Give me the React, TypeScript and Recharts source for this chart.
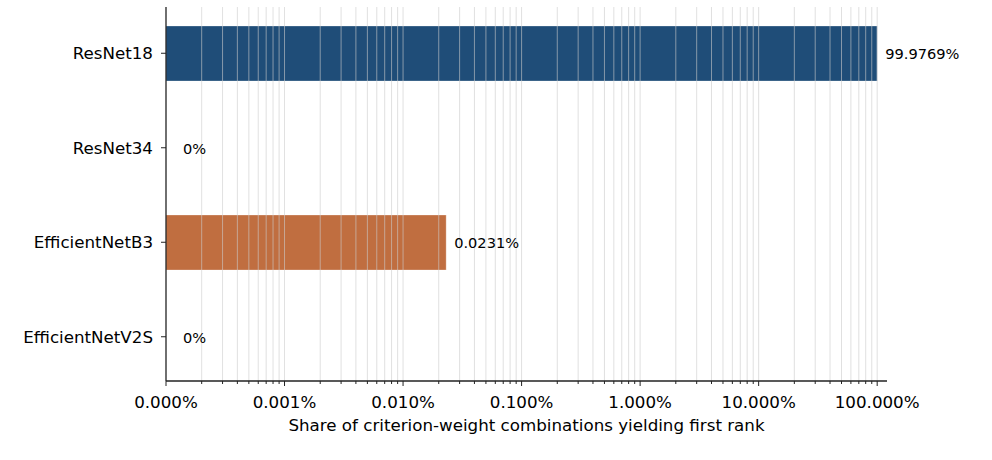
import { BarChart, Bar, XAxis, YAxis, Cell, LabelList, Label, ReferenceLine } from 'recharts';

const models = ['ResNet18', 'ResNet34', 'EfficientNetB3', 'EfficientNetV2S'];
const shares = [99.9769, 0, 0.0231, 0];
const barColors = ['#1f4d78', '#1f4d78', '#c06e40', '#c06e40'];

const majorTicks = [0.0001, 0.001, 0.01, 0.1, 1, 10, 100];
const minorSteps = [2, 3, 4, 5, 6, 7, 8, 9];
const minorTicks = majorTicks
  .slice(0, -1)
  .flatMap((d) => minorSteps.map((m) => Number((d * m).toPrecision(3))));
const allTicks = [...majorTicks, ...minorTicks].sort((a, b) => a - b);
const gridValues = allTicks.filter((v) => v > majorTicks[0]);

const X_MIN = 0.0001;
const X_MAX = 121;

// log axis cannot show 0, so zero shares sit on the axis floor
const data = models.map((model, i) => ({
  model,
  share: shares[i],
  plotShare: Math.max(shares[i], X_MIN),
}));

const FONT = '"DejaVu Sans", sans-serif';

const XTick = (props: any) => {
  const { x, y, payload } = props;
  const isMajor = majorTicks.includes(payload.value);
  const axisY = y - 15;
  return (
    <g>
      <line x1={x} x2={x} y1={axisY} y2={axisY + (isMajor ? 5 : 3)} stroke="#222" strokeWidth={1} />
      {isMajor && (
        <text x={x} y={y} dy="0.71em" textAnchor="middle" fontSize={16.7} fill="#000" fontFamily={FONT}>
          {payload.value.toFixed(3) + '%'}
        </text>
      )}
    </g>
  );
};

const ValueLabel = (props: any) => {
  const { x, y, width, height, value } = props;
  const offset = value > 0 ? 8 : 16;
  return (
    <text
      x={x + width + offset}
      y={y + height / 2}
      dominantBaseline="central"
      fontSize={14.6}
      fill="#000"
      fontFamily={FONT}
    >
      {`${value}%`}
    </text>
  );
};

export default function App() {
  return (
    <div style={{ position: 'absolute', left: 0, top: 0, background: '#fff', fontFamily: FONT }}>
      <BarChart
        width={992}
        height={460}
        data={data}
        layout="vertical"
        margin={{ top: 7, right: 105, bottom: 0, left: 0 }}
      >
        <XAxis
          type="number"
          dataKey="plotShare"
          scale="log"
          domain={[X_MIN, X_MAX]}
          allowDataOverflow
          ticks={allTicks}
          interval={0}
          tick={<XTick />}
          tickLine={false}
          tickSize={5}
          tickMargin={10}
          height={79}
          axisLine={{ stroke: '#222', strokeWidth: 1.3 }}
        >
          <Label
            value="Share of criterion-weight combinations yielding first rank"
            position="insideBottom"
            offset={29}
            fontSize={16.7}
            fill="#000"
            fontFamily={FONT}
          />
        </XAxis>
        <YAxis
          type="category"
          dataKey="model"
          width={166}
          padding={{ top: -1, bottom: -3 }}
          tickSize={5}
          tickMargin={8}
          tick={{ fontSize: 16.7, fill: '#000', fontFamily: FONT }}
          tickLine={{ stroke: '#222' }}
          axisLine={{ stroke: '#222', strokeWidth: 1.3 }}
        />
        <Bar dataKey="plotShare" barSize={55} minPointSize={1} isAnimationActive={false}>
          {data.map((d, i) => (
            <Cell
              key={d.model}
              fill={d.share > 0 ? barColors[i] : 'transparent'}
              stroke={d.share > 0 ? '#ffffff' : 'none'}
              strokeOpacity={0.35}
              strokeWidth={0.8}
            />
          ))}
          <LabelList dataKey="share" content={<ValueLabel />} />
        </Bar>
        {gridValues.map((v) => (
          <ReferenceLine key={v} x={v} stroke="#cccccc" strokeOpacity={0.6} strokeWidth={1} />
        ))}
      </BarChart>
    </div>
  );
}
